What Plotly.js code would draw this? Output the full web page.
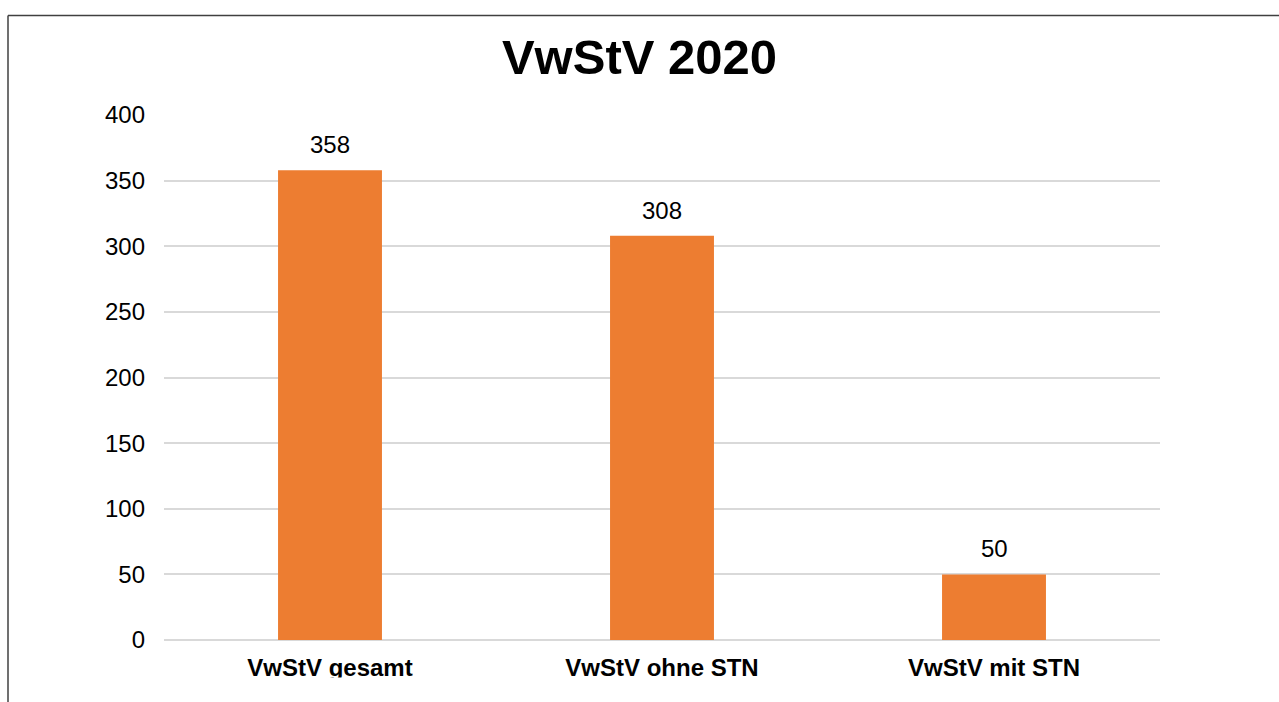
<!DOCTYPE html>
<html>
<head>
<meta charset="utf-8">
<script src="https://cdn.plot.ly/plotly-3.0.1.min.js"></script>
<style>
html,body{margin:0;padding:0;background:#fff;}
#chart{width:1279px;height:702px;}
</style>
</head>
<body>
<div id="chart"></div>
<script>
const categories = ["VwStV gesamt", "VwStV ohne STN", "VwStV mit STN"];
const values = [358, 308, 50];
const yTicks = [0, 50, 100, 150, 200, 250, 300, 350, 400];
const chartTitle = "VwStV 2020";

const FONT = "Liberation Sans, Arial, sans-serif";

const data = [{
  type: "bar",
  x: categories,
  y: values,
  marker: {color: "#ED7D31"},
  width: 0.313,
  hoverinfo: "x+y"
}];

const annotations = categories.map((c, i) => ({
  x: c, y: values[i], xref: "x", yref: "y",
  text: String(values[i]), showarrow: false,
  yanchor: "bottom", yshift: 10,
  font: {family: FONT, size: 24, color: "#000"}
}));

const px = v => (v - 164) / 996;
const py = v => (640 - v) / 525;

const shapes = [
  {type: "rect", xref: "paper", yref: "paper", x0: px(10), x1: 1.2, y0: py(677.5), y1: py(720),
   fillcolor: "#fff", line: {width: 0}, layer: "above"},
  {type: "line", xref: "paper", yref: "paper", x0: px(8), x1: px(1290), y0: py(15.5), y1: py(15.5),
   line: {color: "#404040", width: 1.5}, layer: "above"},
  {type: "line", xref: "paper", yref: "paper", x0: px(8), x1: px(8), y0: py(15.5), y1: py(720),
   line: {color: "#404040", width: 1.5}, layer: "above"}
];

const layout = {
  width: 1279, height: 702,
  margin: {l: 164, r: 119, t: 115, b: 62},
  paper_bgcolor: "#fff", plot_bgcolor: "#fff",
  showlegend: false,
  title: {text: "<b>" + chartTitle + "</b>", x: 0.5, xref: "container", y: 1 - 57/702, yanchor: "middle",
          font: {family: FONT, size: 49, color: "#000"}},
  xaxis: {
    type: "category",
    showgrid: false, showline: false, zeroline: false,
    ticks: "", ticklabelstandoff: 11,
    tickfont: {family: FONT, size: 24, color: "#000", weight: "bold"}
  },
  yaxis: {
    range: [0, 400], tickvals: yTicks, ticktext: yTicks.map(String),
    showgrid: true, gridcolor: "#d9d9d9", gridwidth: 2,
    zeroline: true, zerolinecolor: "#d9d9d9", zerolinewidth: 2,
    showline: false, ticks: "", ticklabelstandoff: 18,
    tickfont: {family: FONT, size: 24, color: "#000"}
  },
  annotations: annotations,
  shapes: shapes
};

Plotly.newPlot("chart", data, layout, {displayModeBar: false, staticPlot: true});
</script>
</body>
</html>
